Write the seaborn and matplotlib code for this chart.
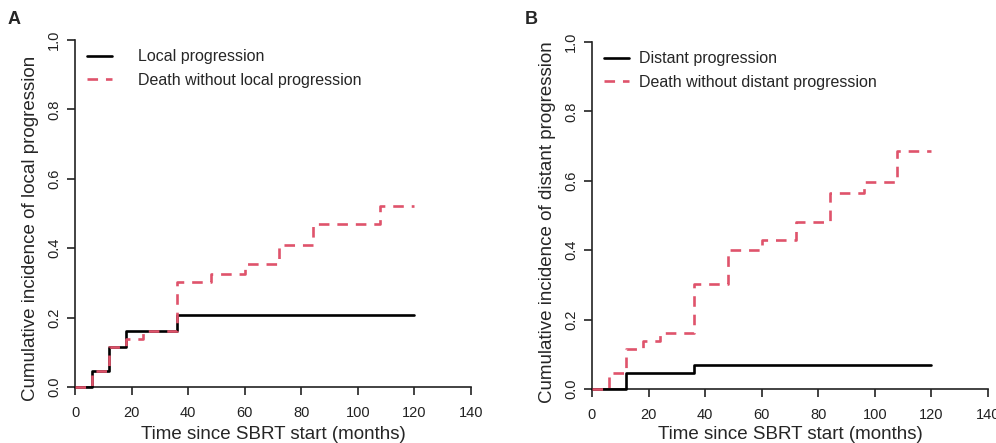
import numpy as np
import pandas as pd
import seaborn as sns
import matplotlib.pyplot as plt

# Panel A: local progression competing risks
a_local_t = [0, 6, 12, 18, 36, 120]
a_local_y = [0.0, 0.046, 0.115, 0.162, 0.208, 0.208]
a_death_t = [0, 6, 12, 18, 24, 36, 48, 60, 72, 84, 108, 120]
a_death_y = [0.0, 0.046, 0.115, 0.138, 0.162, 0.304, 0.327, 0.354, 0.408, 0.469, 0.523, 0.523]

# Panel B: distant progression competing risks
b_dist_t = [0, 12, 36, 120]
b_dist_y = [0.0, 0.046, 0.069, 0.069]
b_death_t = [0, 6, 12, 18, 24, 36, 48, 60, 72, 84, 96, 108, 120]
b_death_y = [0.0, 0.046, 0.115, 0.138, 0.162, 0.304, 0.402, 0.428, 0.480, 0.566, 0.596, 0.687, 0.687]

x_ticks = [0, 20, 40, 60, 80, 100, 120, 140]
y_ticks = [0.0, 0.2, 0.4, 0.6, 0.8, 1.0]

RED = "#DF536B"
DASH = [4, 3]

sns.set_style("ticks")
plt.rcParams['font.family'] = ['Liberation Sans', 'DejaVu Sans']

W, H = 996, 443
fig = plt.figure(figsize=(W / 100, H / 100), dpi=100)


def panel(rect, letter, ev_t, ev_y, de_t, de_y, ev_name, de_name, ylab,
          txtpad, ylab_y, labpad):
    l, t, r, b = rect
    ax = fig.add_axes([l / W, 1 - b / H, (r - l) / W, (b - t) / H])
    df_ev = pd.DataFrame({"t": ev_t, "y": ev_y})
    df_de = pd.DataFrame({"t": de_t, "y": de_y})
    sns.lineplot(data=df_ev, x="t", y="y", ax=ax, color="black", lw=1.9,
                 drawstyle="steps-post", label=ev_name, clip_on=False, zorder=3)
    sns.lineplot(data=df_de, x="t", y="y", ax=ax, color=RED, lw=1.9,
                 drawstyle="steps-post", label=de_name, clip_on=False, zorder=4)
    ax.lines[-1].set_dashes(DASH)
    ax.set_xlim(0, 140)
    ax.set_ylim(0, 1)
    ax.set_xticks(x_ticks)
    ax.set_yticks(y_ticks)
    ax.set_yticklabels([f"{v:.1f}" for v in y_ticks], rotation=90, va="center")
    ax.tick_params(direction="out", length=6, width=1.2, labelsize=10.5,
                   colors="#222222")
    ax.tick_params(axis="x", pad=8)
    ax.tick_params(axis="y", pad=4)
    for s in ["left", "bottom"]:
        ax.spines[s].set_linewidth(1.2)
        ax.spines[s].set_color("#222222")
    sns.despine(ax=ax)
    ax.set_xlabel("Time since SBRT start (months)", fontsize=13.5, labelpad=labpad)
    ax.set_ylabel(ylab, fontsize=13.5)
    ax.yaxis.set_label_coords(-0.091, ylab_y)
    leg = ax.legend(loc="upper left", bbox_to_anchor=(-0.005, 1.015), frameon=False,
                    fontsize=11.5, handlelength=1.55, handletextpad=txtpad,
                    labelspacing=0.55)
    leg.get_lines()[1].set_dashes(DASH)
    fig.text((l - 67) / W, 1 - 20 / H, letter, fontsize=13, fontweight="bold",
             va="center", ha="left")
    return ax


panel((75, 40, 471, 387), "A", a_local_t, a_local_y, a_death_t, a_death_y,
      "Local progression", "Death without local progression",
      "Cumulative incidence of local progression", 1.6, 0.457, 4)
panel((592, 42, 988, 389), "B", b_dist_t, b_dist_y, b_death_t, b_death_y,
      "Distant progression", "Death without distant progression",
      "Cumulative incidence of distant progression", 0.6, 0.481, 2.5)

fig.savefig("out.png", dpi=100)
